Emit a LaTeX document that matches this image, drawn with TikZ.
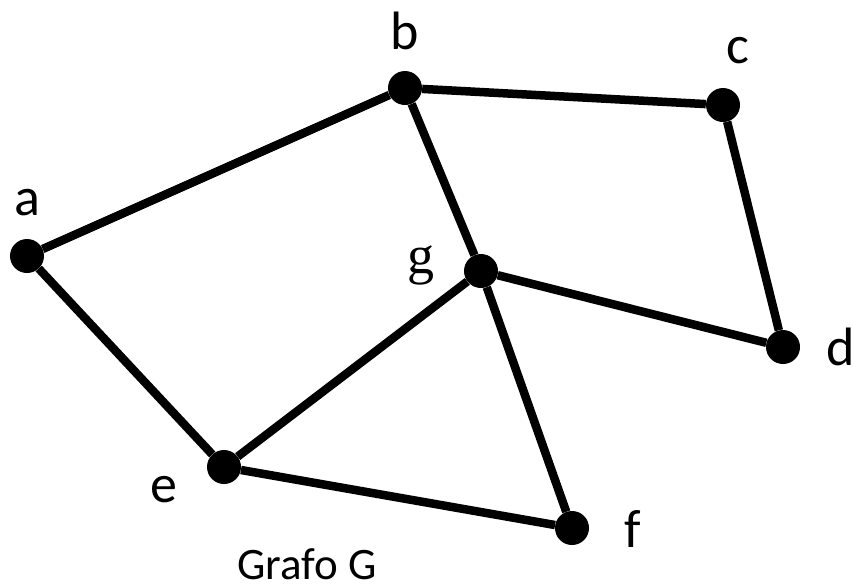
\documentclass[tikz,border=0pt]{standalone}
\usepackage{fontspec}
\setmainfont{Carlito}
\newfontfamily\seriffont{Liberation Serif}
\begin{document}
\begin{tikzpicture}[x=1pt,y=-1pt,
  vtx/.style={circle,fill=black,inner sep=0pt,minimum size=34pt},
  edge/.style={line width=8.5pt},
  lbl/.style={anchor=base,inner sep=0pt,font=\fontsize{54}{60}\selectfont},
  titlelbl/.style={anchor=base,inner sep=0pt,font=\fontsize{45}{50}\selectfont}]
\useasboundingbox (0,0) rectangle (853,587);
\node[vtx] (a) at (27,256) {};
\node[vtx] (b) at (405,88) {};
\node[vtx] (c) at (723,105) {};
\node[vtx] (d) at (783,347) {};
\node[vtx] (e) at (224,467) {};
\node[vtx] (f) at (572,528) {};
\node[vtx] (g) at (481,271) {};
\draw[edge] (a) -- (b);
\draw[edge] (b) -- (c);
\draw[edge] (b) -- (g);
\draw[edge] (c) -- (d);
\draw[edge] (g) -- (d);
\draw[edge] (a) -- (e);
\draw[edge] (e) -- (g);
\draw[edge] (g) -- (f);
\draw[edge] (e) -- (f);
\node[lbl] (la) at (27,215) {a};
\node[lbl] (lb) at (405,49) {b};
\node[lbl] (lc) at (738,63) {c};
\node[lbl] (ld) at (841,365) {d};
\node[lbl] (le) at (164,502) {e};
\node[lbl] (lf) at (633,547) {f};
\node[lbl,font=\fontsize{54}{60}\seriffont] (lg) at (421,273) {g};
\node[titlelbl] (title) at (307,579) {Grafo G};
\end{tikzpicture}
\end{document}
